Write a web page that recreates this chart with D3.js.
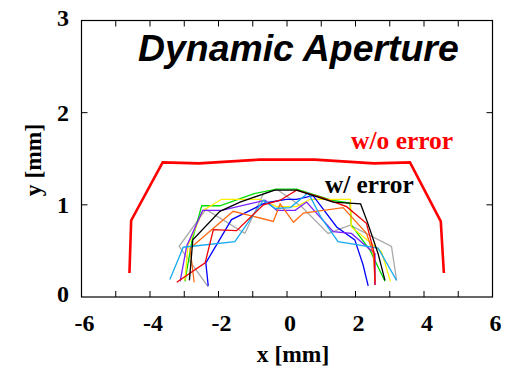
<!DOCTYPE html>
<html>
<head>
<meta charset="utf-8">
<script src="https://cdn.jsdelivr.net/npm/d3@7"></script>
<style>
  body { margin: 0; background: #fff; }
  text { font-family: "Liberation Serif", "Times New Roman", serif; font-weight: bold; }
</style>
</head>
<body>
<svg id="chart" width="515" height="371"></svg>
<script>
// axis ticks
const xTicks = [-6, -4, -2, 0, 2, 4, 6];
const yTicks = [0, 1, 2, 3];

// w/o error aperture
const noErrX = [-4.6, -4.55, -3.63, -2.57, -0.81, 0.81, 2.54, 3.59, 4.49, 4.58];
const noErrY = [0.26, 0.83, 1.46, 1.45, 1.49, 1.49, 1.45, 1.46, 0.82, 0.26];

// w/ error seeds
const seedColors = ['#aaaaaa', '#00dd00', '#ffee00', '#0000ff', '#7a1fff', '#ff6a10', '#18aaee', '#ee0000', '#000000'];
const seedX = [
  [-2.3, -3.15, -2.37, -1.23, -0.69, -0.3, 0.43, 1.2, 1.84, 3.05, 3.2],
  [-2.98, -2.78, -2.49, -1.96, -0.98, -0.3, 0.28, 1.3, 1.84, 1.88, 2.42, 2.86],
  [-2.98, -2.89, -2.45, -1.91, -0.79, -0.3, 0.28, 0.67, 1.85, 1.88, 2.76, 3.02],
  [-2.3, -2.37, -1.62, -0.64, -0.02, 0.28, 0.76, 1.45, 1.98, 2.22, 2.37],
  [-3.12, -2.93, -2.46, -1.91, -0.64, -0.3, 0.24, 0.57, 1.35, 1.88, 2.57, 2.57],
  [-2.71, -2.83, -1.57, -0.4, -0.2, 0.19, 0.48, 1.64, 2.32, 2.52, 2.57],
  [-3.42, -3.03, -1.52, -0.69, -0.35, 0.1, 0.62, 1.0, 1.49, 2.66, 3.2],
  [-3.22, -2.39, -2.15, -1.47, -0.69, -0.2, 0.28, 1.0, 1.74, 2.32, 2.55, 2.57],
  [-2.85, -2.75, -1.96, -1.37, -0.36, 0.28, 1.35, 2.15, 2.35, 2.66, 2.86]
];
const seedY = [
  [0.11, 0.55, 0.95, 0.69, 1.12, 1.17, 0.98, 0.69, 0.78, 0.55, 0.18],
  [0.17, 0.6, 0.99, 0.99, 1.12, 1.17, 1.17, 1.05, 1.02, 0.78, 0.51, 0.17],
  [0.18, 0.56, 0.94, 1.06, 1.06, 0.98, 0.98, 1.06, 1.06, 0.76, 0.49, 0.17],
  [0.12, 0.37, 0.84, 1.02, 1.06, 1.06, 1.1, 0.76, 0.62, 0.35, 0.12],
  [0.17, 0.55, 0.94, 0.94, 1.05, 0.94, 0.94, 1.03, 0.71, 0.69, 0.47, 0.13],
  [0.16, 0.53, 0.93, 0.82, 1.01, 0.81, 0.91, 0.97, 0.69, 0.47, 0.17],
  [0.19, 0.54, 0.6, 1.05, 0.96, 0.97, 1.13, 0.86, 0.6, 0.53, 0.18],
  [0.16, 0.37, 0.73, 0.72, 1.0, 1.05, 1.16, 1.08, 0.98, 0.8, 0.47, 0.13],
  [0.18, 0.62, 0.93, 1.03, 1.16, 1.16, 1.03, 1.01, 0.81, 0.47, 0.18]
];

const svg = d3.select('#chart');
const box = { left: 81.5, right: 492.5, top: 20.5, bottom: 297 };

const x = d3.scaleLinear().domain([-6, 6]).range([box.left, box.right]);
const y = d3.scaleLinear().domain([0, 3]).range([box.bottom, box.top]);

// frame
svg.append('rect')
  .attr('x', box.left).attr('y', box.top)
  .attr('width', box.right - box.left).attr('height', box.bottom - box.top)
  .attr('fill', 'none').attr('stroke', '#000').attr('stroke-width', 1.2);

// inward ticks, every unit on x, every unit on y
const tk = 6;
const g = svg.append('g').attr('stroke', '#000').attr('stroke-width', 1);
d3.range(-5, 6).forEach((v) => {
  g.append('line').attr('x1', x(v)).attr('x2', x(v)).attr('y1', box.bottom).attr('y2', box.bottom - tk);
  g.append('line').attr('x1', x(v)).attr('x2', x(v)).attr('y1', box.top).attr('y2', box.top + tk);
});
[1, 2].forEach((v) => {
  g.append('line').attr('x1', box.left).attr('x2', box.left + tk).attr('y1', y(v)).attr('y2', y(v));
  g.append('line').attr('x1', box.right).attr('x2', box.right - tk).attr('y1', y(v)).attr('y2', y(v));
});

// tick labels
svg.append('g').selectAll('text').data(xTicks).join('text')
  .attr('x', (d) => x(d) + 3).attr('y', 331)
  .attr('text-anchor', 'middle').attr('font-size', 24)
  .text((d) => d);
svg.append('g').selectAll('text').data(yTicks).join('text')
  .attr('x', 69).attr('y', (d) => y(d) - (d === 3 ? 3 : d === 0 ? 3 : 0))
  .attr('dy', '0.35em')
  .attr('text-anchor', 'end').attr('font-size', 24)
  .text((d) => d);

// axis titles
svg.append('text').attr('x', 293).attr('y', 362)
  .attr('text-anchor', 'middle').attr('font-size', 23.5).text('x [mm]');
svg.append('text').attr('transform', 'translate(41,160) rotate(-90)')
  .attr('text-anchor', 'middle').attr('font-size', 23.5).text('y [mm]');

const line = d3.line().x((d) => x(d[0])).y((d) => y(d[1]));

// w/ error seeds
seedX.forEach((xs, i) => {
  svg.append('path')
    .attr('d', line(xs.map((v, j) => [v, seedY[i][j]])))
    .attr('fill', 'none').attr('stroke', seedColors[i]).attr('stroke-width', 1.3)
    .attr('stroke-linejoin', 'miter');
});

// w/o error
svg.append('path')
  .attr('d', line(noErrX.map((v, j) => [v, noErrY[j]])))
  .attr('fill', 'none').attr('stroke', '#ff0000').attr('stroke-width', 2.6);

// labels
svg.append('text').attr('x', 138).attr('y', 61)
  .style('font-family', '"Liberation Sans", Arial, sans-serif')
  .attr('font-style', 'italic').attr('font-size', 37.4).text('Dynamic Aperture');
svg.append('text').attr('x', 351).attr('y', 149)
  .attr('fill', '#ff0000').attr('font-size', 25.5).text('w/o error');
svg.append('text').attr('x', 325).attr('y', 193)
  .attr('fill', '#000').attr('font-size', 25.3).text('w/ error');
</script>
</body>
</html>
